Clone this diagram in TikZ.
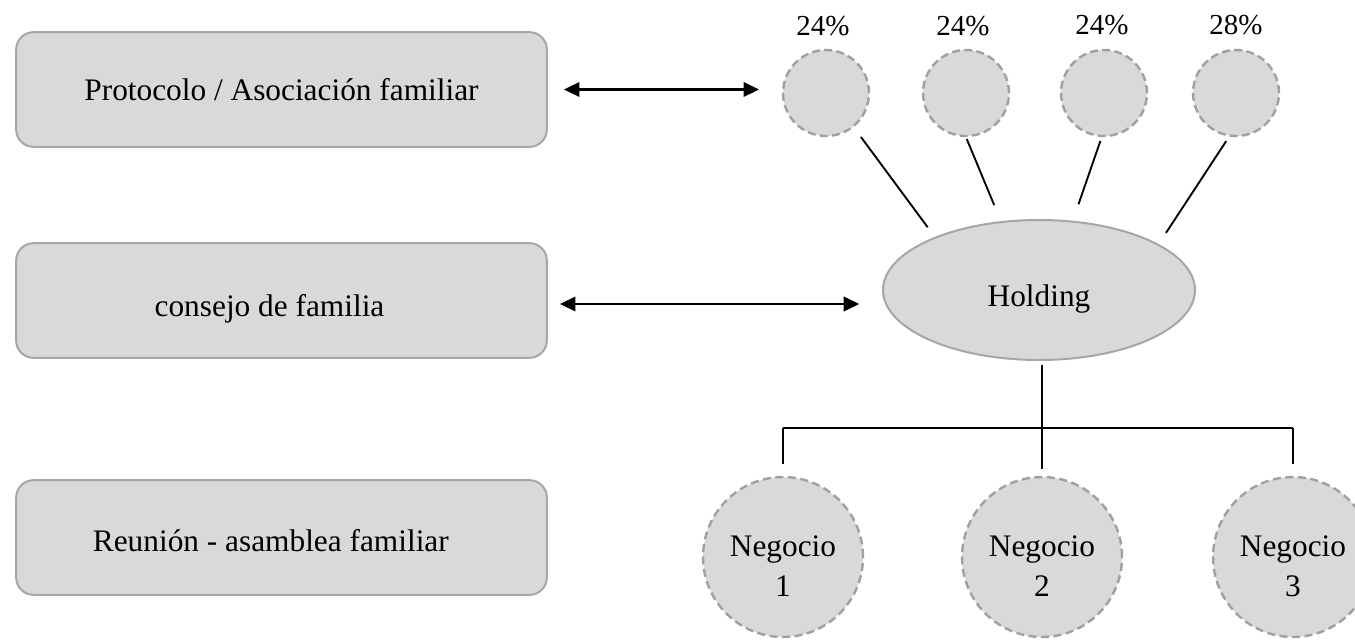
\documentclass[tikz,border=0pt]{standalone}
\usepackage{fontspec}
\setmainfont{Liberation Serif}
\usetikzlibrary{arrows.meta,shapes.geometric,calc}

\definecolor{shapefill}{HTML}{D9D9D9}
\definecolor{shapeline}{HTML}{A6A6A6}
\definecolor{dashline}{HTML}{A0A0A0}

\begin{document}
\begin{tikzpicture}[x=0.75pt,y=-0.75pt,
  every node/.style={font=\fontsize{23.5}{30}\selectfont, inner sep=0pt},
  roundbox/.style={draw=shapeline, line width=1.5pt, fill=shapefill,
    rounded corners=13pt, minimum width=398pt, minimum height=86pt},
  share/.style={circle, draw=dashline, line width=1.8pt, fill=shapefill,
    dash pattern=on 6pt off 3.2pt, minimum size=64.5pt},
  business/.style={circle, draw=dashline, line width=1.8pt, fill=shapefill,
    dash pattern=on 6pt off 3.4pt, minimum size=120pt},
  caption/.style={align=center, yshift=-7pt},
  holdshape/.style={ellipse, draw=shapeline, line width=1.5pt, fill=shapefill,
    minimum width=234pt, minimum height=105pt},
  pct/.style={font=\fontsize{21.75}{26}\selectfont, anchor=base},
  link/.style={draw=black, line width=1.4pt},
  twoway/.style={draw=black, line width=2pt,
    {Triangle[length=11.7pt,width=10.7pt]}-{Triangle[length=11.7pt,width=10.7pt]}}
]
\useasboundingbox (0,0) rectangle (1355,639);

% governance bodies
\node[roundbox] (b1) at (281.5,89.5) {Protocolo / Asociación familiar};
\node[roundbox, label={[xshift=-9pt,yshift=-6pt]center:consejo de familia}] (b2) at (281.5,300.5) {};
\node[roundbox, label={[xshift=-8pt,yshift=-2pt]center:Reunión - asamblea familiar}] (b3) at (281.5,537.5) {};

% shareholders
\node[share] (s1) at (826,93) {};
\node[share] (s2) at (966,93) {};
\node[share] (s3) at (1104,93) {};
\node[share] (s4) at (1236,93) {};

\node[pct] (p1) at (823,35) {24\%};
\node[pct] (p2) at (963,36) {24\%};
\node[pct] (p3) at (1102,34) {24\%};
\node[pct] (p4) at (1236,34) {28\%};

% holding company
\node[holdshape, label={[caption]center:Holding}] (hold) at (1039,290) {};

% operating companies
\node[business, label={[caption]center:Negocio\\1}] (n1) at (783,557) {};
\node[business, label={[caption]center:Negocio\\2}] (n2) at (1042,557) {};
\node[business, label={[caption]center:Negocio\\3}] (n3) at (1293,557) {};

% two-way relations
\draw[twoway, shorten <=12pt, shorten >=17pt] (b1.east) -- (b1.east -| s1.west);
\draw[twoway, shorten <=9pt, shorten >=17pt]
  ($(b2.east)+(0,3.5)$) -- ($(b2.east -| hold.west)+(0,3.5)$);

% ownership links
\draw[link, shorten <=9pt, shorten >=9pt] (s1.-51) -- (hold.153);
\draw[link, shorten <=1.5pt, shorten >=13pt] (s2.-90) -- (hold.119);
\draw[link, shorten <=3pt, shorten >=13pt] (s3.-93) -- (hold.64);
\draw[link, shorten <=4pt, shorten >=10pt] (s4.-99) -- (hold.21);

% holding tree
\coordinate (bus) at (1042,428);
\draw[link, shorten <=3pt, shorten >=5pt] (hold.south -| n2.north) -- (n2.north);
\draw[link] (n1.north |- bus) -- (n3.north |- bus);
\draw[link, shorten >=9pt] (n1.north |- bus) -- (n1.north);
\draw[link, shorten >=9pt] (n3.north |- bus) -- (n3.north);

\end{tikzpicture}
\end{document}
